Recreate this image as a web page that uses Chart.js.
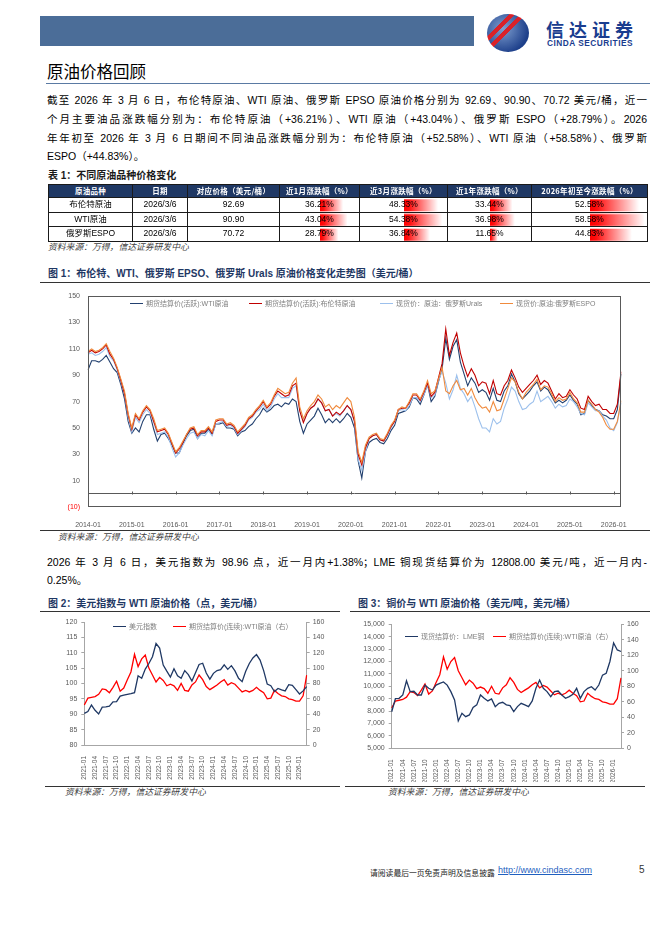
<!DOCTYPE html>
<html>
<head>
<meta charset="utf-8">
<script src="https://cdn.jsdelivr.net/npm/chart.js@4.4.1/dist/chart.umd.min.js"></script>
<style>
body { margin: 0; background: #fff; }
#page { position: relative; width: 662px; height: 936px; overflow: hidden; background: #fff;
  font-family: "Liberation Sans", "Noto Sans CJK SC", sans-serif; color: #000; }
.a { position: absolute; white-space: nowrap; }
.rule { position: absolute; height: 1px; }
.jl { position: absolute; left: 47px; width: 600px; height: 18px; line-height: 18px; font-size: 10.5px;
  text-align: justify; text-align-last: justify; white-space: nowrap; }
.src { position: absolute; font-size: 8.8px; line-height: 10px; font-style: italic; color: #404040; white-space: nowrap; }
.ftitle { position: absolute; font-size: 10px; line-height: 12px; font-weight: bold; color: #1f3864; white-space: nowrap;
  font-family: "Liberation Sans", "Noto Sans CJK SC", sans-serif; }
.cell { position: absolute; box-sizing: border-box; text-align: center; font-size: 8.5px; z-index: 2;
  border-right: 1px solid #1a1a1a; border-bottom: 1px solid #1a1a1a; white-space: nowrap; }
.hcell { background: #1f3864; color: #fff; font-weight: bold; font-size: 7.5px; letter-spacing: 0.3px;
  font-family: "Noto Sans CJK SC", sans-serif; }
.lg { position: absolute; font-size: 7px; color: #7f7f7f; line-height: 10px; white-space: nowrap; z-index: 3; }
.lg i { display: inline-block; width: 13px; height: 1.5px; vertical-align: middle; margin-right: 3px; margin-top: -1px; }
canvas { position: absolute; }
</style>
</head>
<body>
<div id="page">
  <div class="a" style="left:40px;top:16px;width:434px;height:30px;background:#4b6d98;"></div>
  <div class="a" style="left:487px;top:14px;width:42px;height:38px;border-radius:50%;
    background: linear-gradient(135deg, rgba(0,0,0,0) 28%, #d9222a 28%, #d9222a 36%, rgba(0,0,0,0) 36%, rgba(0,0,0,0) 42%, #d9222a 42%, #d9222a 49%, rgba(0,0,0,0) 49%),
    radial-gradient(circle at 38% 38%, #7f9fd0, #1d3f8a 72%);"></div>
  <div class="a" style="left:546px;top:19px;height:20px;line-height:20px;font-size:18px;font-weight:bold;color:#1a3d8f;letter-spacing:5px;font-family:'Noto Sans CJK SC';">信达证券</div>
  <div class="a" style="left:547px;top:39px;height:9px;line-height:9px;font-size:8.3px;font-weight:bold;color:#1a3d8f;letter-spacing:0.5px;">CINDA SECURITIES</div>

  <div class="a" style="left:47px;top:62px;font-size:16.5px;line-height:19px;font-family:'Noto Sans CJK SC';">原油价格回顾</div>
  <div class="rule" style="left:46px;top:83px;width:604px;background:#5a7aa3;"></div>

  <div class="jl" style="top:91px;">截至 2026 年 3 月 6 日，布伦特原油、WTI 原油、俄罗斯 EPSO 原油价格分别为 92.69、90.90、70.72 美元/桶，近一</div>
  <div class="jl" style="top:110px;">个月主要油品涨跌幅分别为：布伦特原油（+36.21%）、WTI 原油（+43.04%）、俄罗斯 ESPO（+28.79%）。2026</div>
  <div class="jl" style="top:129px;">年年初至 2026 年 3 月 6 日期间不同油品涨跌幅分别为：布伦特原油（+52.58%）、WTI 原油（+58.58%）、俄罗斯</div>
  <div class="jl" style="top:147px;text-align-last:left;">ESPO（+44.83%）。</div>

  <div class="ftitle" style="left:48px;top:170px;color:#1a1a1a;">表 1：不同原油品种价格变化</div>
  <div id="tbl"></div>
  <div class="src" style="left:48px;top:242px;">资料来源：万得，信达证券研发中心</div>

  <div class="ftitle" style="left:48px;top:268px;">图 1：布伦特、WTI、俄罗斯 EPSO、俄罗斯 Urals 原油价格变化走势图（美元/桶）</div>
  <div class="rule" style="left:40px;top:282px;width:610px;background:#333;"></div>
  <canvas id="chart1" width="612" height="244" style="left:40px;top:284px;width:612px;height:244px;"></canvas>
  <div class="rule" style="left:40px;top:530px;width:610px;background:#333;"></div>
  <div class="src" style="left:58px;top:532px;">资料来源：万得，信达证券研发中心</div>

  <div class="jl" style="top:553px;">2026 年 3 月 6 日，美元指数为 98.96 点，近一月内+1.38%；LME 铜现货结算价为 12808.00 美元/吨，近一月内-</div>
  <div class="jl" style="top:571px;text-align-last:left;">0.25%。</div>

  <div class="ftitle" style="left:48px;top:598px;">图 2：美元指数与 WTI 原油价格（点，美元/桶）</div>
  <div class="ftitle" style="left:358px;top:598px;">图 3：铜价与 WTI 原油价格（美元/吨，美元/桶）</div>
  <div class="rule" style="left:40px;top:611px;width:300px;background:#333;"></div>
  <div class="rule" style="left:350px;top:611px;width:300px;background:#333;"></div>
  <canvas id="chart2" width="300" height="168" style="left:40px;top:612px;width:300px;height:168px;"></canvas>
  <canvas id="chart3" width="305" height="168" style="left:345px;top:614px;width:305px;height:168px;"></canvas>
  <div class="rule" style="left:45px;top:786px;width:295px;background:#333;"></div>
  <div class="rule" style="left:345px;top:786px;width:300px;background:#333;"></div>
  <div class="src" style="left:65px;top:787px;">资料来源：万得，信达证券研发中心</div>
  <div class="src" style="left:388px;top:787px;">资料来源：万得，信达证券研发中心</div>

  <div class="a" style="left:370px;top:867px;font-size:7.8px;color:#222;">请阅读最后一页免责声明及信息披露</div>
  <div class="a" style="left:498px;top:865px;font-size:9px;color:#1f5fbf;text-decoration:underline;">http://www.cindasc.com</div>
  <div class="a" style="left:639px;top:864px;font-size:10px;color:#333;">5</div>
</div>

<script>
// table 1
var tableHeads = ['原油品种', '日期', '对应价格（美元/桶）', '近1月涨跌幅（%）', '近3月涨跌幅（%）', '近1年涨跌幅（%）', '2026年初至今涨跌幅（%）'];
var oilNames = ['布伦特原油', 'WTI原油', '俄罗斯ESPO'];
var priceDates = ['2026/3/6', '2026/3/6', '2026/3/6'];
var prices = [92.69, 90.90, 70.72];
var chg1m = [36.21, 43.04, 28.79];
var chg3m = [48.33, 54.38, 36.84];
var chg1y = [33.44, 36.98, 11.65];
var chgYtd = [52.58, 58.58, 44.83];

// figure 1, monthly 2014-01 .. 2026-03
var wti = [
  94, 101, 101, 100, 102, 105, 100, 95, 92, 83, 72, 55,
  46, 50, 47, 55, 60, 60, 49, 40, 45, 46, 42, 37,
  31, 31, 38, 44, 48, 49, 42, 46, 46, 49, 45, 53,
  53, 54, 50, 50, 49, 44, 47, 48, 51, 53, 57, 60,
  65, 62, 64, 67, 68, 66, 69, 68, 72, 70, 55, 46,
  53, 56, 59, 65, 60, 54, 57, 54, 57, 54, 57, 61,
  58, 50, 25, 12, 32, 39, 41, 42, 39, 38, 42, 48,
  52, 61, 62, 63, 66, 73, 72, 68, 75, 83, 70, 74,
  85, 95, 118, 102, 112, 117, 100, 91, 82, 88, 84, 77,
  79, 77, 71, 80, 71, 70, 78, 82, 91, 85, 76, 72,
  75, 78, 82, 85, 78, 81, 79, 74, 69, 71, 69, 71,
  75, 71, 68, 60, 61, 71, 67, 64, 63, 60, 59, 57,
  57, 64, 90.90
];
var brent = [
  107, 109, 107, 108, 110, 113, 106, 102, 95, 86, 76, 60,
  49, 60, 56, 62, 66, 63, 55, 47, 48, 49, 45, 38,
  31, 34, 39, 45, 49, 50, 44, 47, 47, 50, 46, 55,
  56, 56, 52, 53, 51, 46, 49, 52, 57, 59, 63, 66,
  70, 65, 68, 74, 78, 76, 74, 75, 82, 84, 63, 54,
  61, 65, 67, 72, 69, 63, 64, 59, 62, 60, 63, 67,
  64, 55, 30, 22, 35, 42, 44, 45, 41, 40, 45, 51,
  55, 64, 65, 65, 69, 75, 75, 71, 77, 84, 74, 77,
  88, 99, 125, 105, 115, 122, 107, 97, 89, 95, 90, 82,
  85, 84, 76, 86, 76, 75, 82, 86, 94, 88, 81, 77,
  80, 83, 86, 90, 83, 86, 84, 78, 72, 76, 73, 74,
  79, 75, 72, 65, 64, 74, 70, 67, 68, 64, 64, 61,
  61, 68, 92.69
];
var urals = [
  106, 107, 105, 106, 108, 111, 104, 101, 94, 85, 76, 58,
  47, 58, 54, 60, 64, 61, 54, 45, 46, 47, 43, 35,
  28, 31, 37, 42, 46, 47, 42, 45, 44, 48, 44, 53,
  54, 55, 51, 52, 50, 45, 48, 51, 56, 58, 62, 64,
  68, 63, 66, 72, 76, 73, 73, 73, 80, 82, 63, 55,
  61, 65, 67, 72, 69, 63, 64, 59, 61, 59, 63, 67,
  64, 54, 26, 18, 32, 42, 44, 45, 41, 40, 44, 50,
  55, 63, 64, 63, 67, 73, 73, 70, 75, 83, 73, 75,
  86, 93, 84, 72, 79, 90, 80, 76, 70, 74, 66, 57,
  50, 50, 47, 57, 53, 55, 65, 72, 81, 78, 70, 64,
  65, 68, 70, 78, 70, 72, 74, 70, 65, 68, 66, 67,
  72, 70, 66, 61, 60, 69, 66, 63, 63, 59, 56, 50,
  48, 54, 69
];
var espo = [
  108, 110, 108, 109, 111, 114, 108, 103, 96, 87, 78, 61,
  50, 61, 57, 63, 67, 64, 57, 48, 49, 50, 46, 39,
  32, 35, 40, 45, 50, 51, 45, 48, 48, 51, 47, 56,
  57, 57, 53, 54, 52, 47, 50, 53, 58, 60, 64, 67,
  71, 66, 69, 75, 80, 78, 76, 77, 84, 88, 66, 57,
  63, 67, 70, 75, 72, 66, 68, 64, 67, 65, 69, 73,
  70, 58, 32, 24, 37, 43, 45, 46, 42, 41, 46, 52,
  56, 64, 66, 65, 70, 76, 76, 72, 78, 86, 76, 78,
  87, 96, 78, 76, 82, 86, 79, 80, 75, 80, 73, 68,
  65, 66, 62, 70, 63, 64, 72, 80, 88, 85, 77, 72,
  77, 80, 83, 87, 79, 82, 81, 76, 70, 73, 71, 72,
  77, 72, 69, 62, 62, 71, 68, 64, 62, 58, 52, 49,
  49, 55, 70.72
];
var mainYTicks = [-10, 0, 10, 30, 50, 70, 90, 110, 130, 150];

// figures 2 and 3, monthly 2021-01 .. 2026-03
var dollarIndex = [
  90.3, 90.9, 93.0, 91.3, 90.1, 92.3, 92.4, 92.6, 94.0, 94.1, 95.9, 96.2,
  96.5, 96.7, 97.0, 102.5, 101.7, 104.7, 106.5, 108.7, 113.0, 111.5, 106.0, 104.0,
  102.1, 104.8, 102.5, 101.7, 104.2, 102.9, 100.8, 103.5, 106.2, 106.6, 103.4, 101.4,
  103.3, 104.2, 104.5, 106.1, 104.6, 105.8, 104.1, 101.7, 100.6, 104.0, 106.5, 108.3,
  109.4, 107.6, 104.2, 99.8, 99.3, 97.4, 98.4, 97.9, 97.6, 99.6, 99.4, 98.0,
  96.6, 97.6, 98.96
];
var lmeCopper = [
  7950, 9000, 9030, 9300, 10450, 9570, 9600, 9300, 9300, 10100, 9840, 9700,
  10100, 10240, 10350, 10100, 9570, 8900, 7200, 7820, 7550, 7690, 8300, 8500,
  9300, 9030, 8820, 8980, 8360, 8630, 8710, 8500, 8440, 7960, 8360, 8630,
  8500, 8360, 8820, 9840, 10500, 9840, 9570, 9170, 9570, 9620, 9300, 9030,
  9170, 9360, 9840, 9030, 9570, 9840, 9970, 9700, 10100, 10900, 11050, 12000,
  13500, 12930, 12808
];
var wtiCont = wti.slice(84); // same WTI series from 2021-01

function monthLabels(y0, y1, lastMonth) {
  var out = [];
  for (var y = y0; y <= y1; y++) {
    for (var m = 1; m <= 12; m++) {
      if (y === y1 && m > lastMonth) break;
      out.push(y + '-' + (m < 10 ? '0' + m : m));
    }
  }
  return out;
}
var months = monthLabels(2014, 2026, 3);
var smallMonths = monthLabels(2021, 2026, 3);

var page = document.getElementById('page');

// ---- table ----
var tableX = 48, tableY = 184, headH = 13, rowH = 14.5;
var colW = [84, 55, 92, 80, 88, 84, 116];
var colX = [0];
for (var i = 1; i < colW.length; i++) colX.push(colX[i - 1] + colW[i - 1]);
var tblWrap = document.getElementById('tbl');
tblWrap.className = 'a';
tblWrap.style.cssText = 'left:' + tableX + 'px;top:' + tableY + 'px;width:599px;height:' + (headH + 3 * rowH) + 'px;border-left:1px solid #1a1a1a;border-top:1px solid #1a1a1a;box-sizing:content-box;';

function addCell(c, cellTop, h, text, cls) {
  var d = document.createElement('div');
  d.className = 'cell ' + (cls || '');
  d.style.left = colX[c] + 'px';
  d.style.top = cellTop + 'px';
  d.style.width = colW[c] + 'px';
  d.style.height = h + 'px';
  d.style.lineHeight = (h - 1) + 'px';
  d.textContent = text;
  tblWrap.appendChild(d);
}
tableHeads.forEach(function (t, c) { addCell(c, 0, headH, t, 'hcell'); });
var pctCols = [chg1m, chg3m, chg1y, chgYtd];
for (var r = 0; r < 3; r++) {
  var rowTop = headH + r * rowH;
  addCell(0, rowTop, rowH, oilNames[r]);
  addCell(1, rowTop, rowH, priceDates[r]);
  addCell(2, rowTop, rowH, prices[r].toFixed(2));
  for (var k = 0; k < pctCols.length; k++) addCell(3 + k, rowTop, rowH, pctCols[k][r].toFixed(2) + '%');
}

Chart.defaults.font.family = '"Liberation Sans", "Noto Sans CJK SC", sans-serif';
Chart.defaults.animation = false;
Chart.defaults.plugins.legend.display = false;
Chart.defaults.plugins.tooltip.enabled = false;

// data bars in the table, one small chart per column
var barScaleMax = 61;
function barFill(c) {
  var ch = c.chart;
  if (!ch.chartArea || !ch.scales.x) return '#ff4d4d';
  var x0 = ch.scales.x.getPixelForValue(0);
  var x1 = ch.scales.x.getPixelForValue(c.raw);
  var g = ch.ctx.createLinearGradient(x0, 0, x1, 0);
  g.addColorStop(0, '#ff0000');
  g.addColorStop(0.15, '#ff1010');
  g.addColorStop(1, '#ffffff');
  return g;
}
pctCols.forEach(function (vals, k) {
  var c = 3 + k;
  var cv = document.createElement('canvas');
  var w = Math.floor(colW[c] / 2) - 1;
  var h = 3 * rowH;
  cv.width = w; cv.height = h;
  cv.style.cssText = 'left:' + (tableX + 1 + colX[c] + colW[c] / 2) + 'px;top:' + (tableY + 1 + headH) + 'px;width:' + w + 'px;height:' + h + 'px;z-index:1;';
  page.appendChild(cv);
  new Chart(cv, {
    type: 'bar',
    data: { labels: oilNames, datasets: [{ data: vals, backgroundColor: barFill, borderWidth: 0,
      barPercentage: 1, categoryPercentage: 0.82 }] },
    options: {
      responsive: false,
      indexAxis: 'y',
      layout: { padding: 0 },
      scales: {
        x: { display: false, min: 0, max: barScaleMax },
        y: { display: false }
      }
    }
  });
});

// legends drawn as html over the plot
function htmlLegend(chart, xs, y) {
  chart.data.datasets.forEach(function (ds, i) {
    var d = document.createElement('div');
    d.className = 'lg';
    d.style.left = xs[i] + 'px';
    d.style.top = (y - 5) + 'px';
    d.innerHTML = '<i style="background:' + ds.borderColor + '"></i>' + ds.label;
    page.appendChild(d);
  });
}

// ---- figure 1 ----
var mainBox = {
  id: 'mainBox',
  afterDraw: function (chart) {
    var a = chart.chartArea, ctx = chart.ctx;
    var y0 = Math.round(chart.scales.y.getPixelForValue(0)) + 0.5;
    ctx.save();
    ctx.strokeStyle = '#595959';
    ctx.lineWidth = 1;
    ctx.strokeRect(Math.round(a.left) + 0.5, Math.round(a.top) + 0.5, Math.round(a.width) - 1, Math.round(a.height) - 1);
    ctx.beginPath();
    months.forEach(function (m, i) {
      if (m.slice(5) === '01') {
        var x = Math.round(chart.scales.x.getPixelForValue(i)) + 0.5;
        ctx.moveTo(x, y0 - 3);
        ctx.lineTo(x, y0);
      }
    });
    ctx.stroke();
    ctx.restore();
  }
};

var chart1 = new Chart(document.getElementById('chart1'), {
  type: 'line',
  data: {
    labels: months,
    datasets: [
      { label: '期货结算价(活跃):WTI原油', data: wti, borderColor: '#22406f', order: 3 },
      { label: '期货结算价(活跃):布伦特原油', data: brent, borderColor: '#c00000', order: 1 },
      { label: '现货价：原油：俄罗斯Urals', data: urals, borderColor: '#9cc0ec', order: 2 },
      { label: '现货价:原油:俄罗斯ESPO', data: espo, borderColor: '#f08a3c', order: 0 }
    ]
  },
  options: {
    responsive: false,
    layout: { padding: { top: 9, right: 31, left: 0, bottom: 0 } },
    elements: { point: { radius: 0 }, line: { borderWidth: 1.1, tension: 0 } },
    scales: {
      x: {
        ticks: { autoSkip: false, maxRotation: 0, minRotation: 0, padding: 6, color: '#595959', font: { size: 7 },
          callback: function (v, i) { return months[i].slice(5) === '01' ? months[i] : ''; } },
        grid: { display: false },
        border: { display: false },
        afterFit: function (s) { s.height = 21; }
      },
      y: {
        min: -10, max: 150,
        afterBuildTicks: function (s) { s.ticks = mainYTicks.map(function (v) { return { value: v }; }); },
        ticks: { padding: 8, font: { size: 7 },
          color: function (c) { return c.tick && c.tick.value < 0 ? '#ff0000' : '#595959'; },
          callback: function (v) { return v === 0 ? '' : (v < 0 ? '(' + (-v) + ')' : v); } },
        grid: { drawTicks: false, color: function (c) { return c.tick && c.tick.value === 0 ? '#595959' : 'rgba(0,0,0,0)'; } },
        border: { display: false },
        afterFit: function (s) { s.width = 48; }
      }
    }
  },
  plugins: [mainBox]
});
htmlLegend(chart1, [130, 249, 380, 500], 304);

// ---- figures 2 and 3 ----
function smallX(height) {
  return {
    ticks: { autoSkip: false, minRotation: 90, maxRotation: 90, padding: 3, color: '#595959', font: { size: 6.5 },
      callback: function (v, i) { return i % 3 === 0 ? smallMonths[i] : ''; } },
    grid: { display: false },
    border: { color: '#a6a6a6' },
    afterFit: function (s) { s.height = height; }
  };
}
function smallY(pos, min, max, step, width, fmt) {
  return {
    position: pos, min: min, max: max,
    ticks: { stepSize: step, padding: pos === 'left' ? 4 : 3, color: '#595959', font: { size: 7 }, callback: fmt },
    grid: { drawOnChartArea: false, drawTicks: true, tickLength: 3, color: '#a6a6a6' },
    border: { color: '#a6a6a6' },
    afterFit: function (s) { s.width = width; }
  };
}
function plain(v) { return v; }
function thousands(v) { return v.toLocaleString('en-US'); }

var chart2 = new Chart(document.getElementById('chart2'), {
  type: 'line',
  data: {
    labels: smallMonths,
    datasets: [
      { label: '美元指数', data: dollarIndex, borderColor: '#1f3864', yAxisID: 'y' },
      { label: '期货结算价(连续):WTI原油（右）', data: wtiCont, borderColor: '#ff0000', yAxisID: 'y1' }
    ]
  },
  options: {
    responsive: false,
    layout: { padding: { top: 10, right: 0, left: 0, bottom: 0 } },
    elements: { point: { radius: 0 }, line: { borderWidth: 1.3, tension: 0 } },
    scales: {
      x: smallX(35),
      y: smallY('left', 80, 120, 5, 44.3, plain),
      y1: smallY('right', 0, 160, 20, 33.3, plain)
    }
  }
});
htmlLegend(chart2, [113, 173], 627);

var chart3 = new Chart(document.getElementById('chart3'), {
  type: 'line',
  data: {
    labels: smallMonths,
    datasets: [
      { label: '现货结算价：LME铜', data: lmeCopper, borderColor: '#1f3864', yAxisID: 'y' },
      { label: '期货结算价(连续):WTI原油（右）', data: wtiCont, borderColor: '#ff0000', yAxisID: 'y1' }
    ]
  },
  options: {
    responsive: false,
    layout: { padding: { top: 10.3, right: 0, left: 0, bottom: 0 } },
    elements: { point: { radius: 0 }, line: { borderWidth: 1.3, tension: 0 } },
    scales: {
      x: smallX(33.7),
      y: smallY('left', 5000, 15000, 1000, 46.7, thousands),
      y1: smallY('right', 0, 160, 20, 29, plain)
    }
  }
});
htmlLegend(chart3, [405, 493], 637);
</script>
</body>
</html>
